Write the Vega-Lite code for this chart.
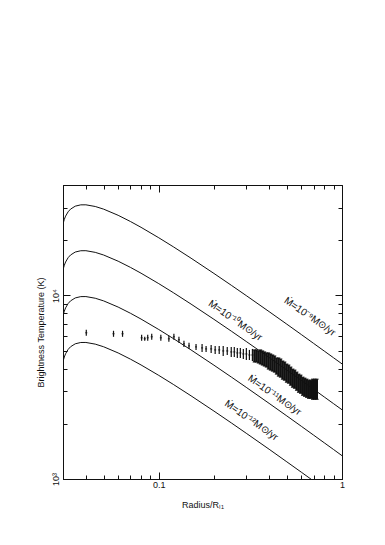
{
  "$schema": "https://vega.github.io/schema/vega-lite/v6.json",
  "width": 279,
  "height": 294,
  "autosize": {"type": "none"},
  "padding": {"left": 63, "top": 185, "right": 43, "bottom": 66},
  "background": "white",
  "config": {
    "view": {"stroke": "#111", "strokeWidth": 1},
    "font": "Liberation Sans",
    "axis": {"domainColor": "#111", "tickColor": "#111", "labelColor": "#111", "titleColor": "#111", "grid": false, "labelFont": "Liberation Sans", "titleFont": "Liberation Sans", "titleFontWeight": "normal"}
  },
  "datasets": {
    "curves": [
      {"r":0.03,"t":24570,"m":"9"},{"r":0.0305,"t":25996,"m":"9"},{"r":0.031,"t":27071,"m":"9"},{"r":0.032,"t":28582,"m":"9"},{"r":0.033,"t":29569,"m":"9"},{"r":0.035,"t":30670,"m":"9"},{"r":0.0375,"t":31178,"m":"9"},{"r":0.04,"t":31194,"m":"9"},{"r":0.045,"t":30547,"m":"9"},{"r":0.05,"t":29543,"m":"9"},{"r":0.06,"t":27346,"m":"9"},{"r":0.07,"t":25306,"m":"9"},{"r":0.08,"t":23521,"m":"9"},{"r":0.1,"t":20630,"m":"9"},{"r":0.12,"t":18427,"m":"9"},{"r":0.15,"t":15965,"m":"9"},{"r":0.2,"t":13187,"m":"9"},{"r":0.25,"t":11329,"m":"9"},{"r":0.3,"t":9989,"m":"9"},{"r":0.4,"t":8168,"m":"9"},{"r":0.5,"t":6975,"m":"9"},{"r":0.6,"t":6125,"m":"9"},{"r":0.7,"t":5482,"m":"9"},{"r":0.8,"t":4980,"m":"9"},{"r":0.9,"t":4574,"m":"9"},{"r":1.0,"t":4239,"m":"9"},
      {"r":0.03,"t":13816,"m":"10"},{"r":0.0305,"t":14618,"m":"10"},{"r":0.031,"t":15223,"m":"10"},{"r":0.032,"t":16073,"m":"10"},{"r":0.033,"t":16628,"m":"10"},{"r":0.035,"t":17247,"m":"10"},{"r":0.0375,"t":17532,"m":"10"},{"r":0.04,"t":17541,"m":"10"},{"r":0.045,"t":17178,"m":"10"},{"r":0.05,"t":16613,"m":"10"},{"r":0.06,"t":15377,"m":"10"},{"r":0.07,"t":14230,"m":"10"},{"r":0.08,"t":13227,"m":"10"},{"r":0.1,"t":11601,"m":"10"},{"r":0.12,"t":10362,"m":"10"},{"r":0.15,"t":8977,"m":"10"},{"r":0.2,"t":7415,"m":"10"},{"r":0.25,"t":6371,"m":"10"},{"r":0.3,"t":5617,"m":"10"},{"r":0.4,"t":4593,"m":"10"},{"r":0.5,"t":3922,"m":"10"},{"r":0.6,"t":3444,"m":"10"},{"r":0.7,"t":3083,"m":"10"},{"r":0.8,"t":2800,"m":"10"},{"r":0.9,"t":2572,"m":"10"},{"r":1.0,"t":2384,"m":"10"},
      {"r":0.03,"t":7770,"m":"11"},{"r":0.0305,"t":8221,"m":"11"},{"r":0.031,"t":8561,"m":"11"},{"r":0.032,"t":9039,"m":"11"},{"r":0.033,"t":9351,"m":"11"},{"r":0.035,"t":9699,"m":"11"},{"r":0.0375,"t":9860,"m":"11"},{"r":0.04,"t":9865,"m":"11"},{"r":0.045,"t":9660,"m":"11"},{"r":0.05,"t":9343,"m":"11"},{"r":0.06,"t":8648,"m":"11"},{"r":0.07,"t":8003,"m":"11"},{"r":0.08,"t":7438,"m":"11"},{"r":0.1,"t":6524,"m":"11"},{"r":0.12,"t":5827,"m":"11"},{"r":0.15,"t":5049,"m":"11"},{"r":0.2,"t":4170,"m":"11"},{"r":0.25,"t":3583,"m":"11"},{"r":0.3,"t":3159,"m":"11"},{"r":0.4,"t":2583,"m":"11"},{"r":0.5,"t":2206,"m":"11"},{"r":0.6,"t":1937,"m":"11"},{"r":0.7,"t":1734,"m":"11"},{"r":0.8,"t":1575,"m":"11"},{"r":0.9,"t":1447,"m":"11"},{"r":1.0,"t":1340,"m":"11"},
      {"r":0.03,"t":4369,"m":"12"},{"r":0.0305,"t":4623,"m":"12"},{"r":0.031,"t":4814,"m":"12"},{"r":0.032,"t":5083,"m":"12"},{"r":0.033,"t":5258,"m":"12"},{"r":0.035,"t":5454,"m":"12"},{"r":0.0375,"t":5544,"m":"12"},{"r":0.04,"t":5547,"m":"12"},{"r":0.045,"t":5432,"m":"12"},{"r":0.05,"t":5254,"m":"12"},{"r":0.06,"t":4863,"m":"12"},{"r":0.07,"t":4500,"m":"12"},{"r":0.08,"t":4183,"m":"12"},{"r":0.1,"t":3669,"m":"12"},{"r":0.12,"t":3277,"m":"12"},{"r":0.15,"t":2839,"m":"12"},{"r":0.2,"t":2345,"m":"12"},{"r":0.25,"t":2015,"m":"12"},{"r":0.3,"t":1776,"m":"12"},{"r":0.4,"t":1453,"m":"12"},{"r":0.5,"t":1240,"m":"12"},{"r":0.6,"t":1089,"m":"12"},{"r":0.7,"t":975,"m":"12"},{"r":0.8,"t":886,"m":"12"},{"r":0.9,"t":813,"m":"12"},{"r":1.0,"t":754,"m":"12"}
    ],
    "obs": [
      {"r":0.0402,"t":6262,"lo":6030,"hi":6504},
      {"r":0.0566,"t":6184,"lo":5954,"hi":6422},
      {"r":0.0634,"t":6184,"lo":5954,"hi":6422},
      {"r":0.0806,"t":5879,"lo":5660,"hi":6106},
      {"r":0.0838,"t":5805,"lo":5660,"hi":5954},
      {"r":0.0870,"t":5879,"lo":5660,"hi":6106},
      {"r":0.0915,"t":5954,"lo":5732,"hi":6184},
      {"r":0.1026,"t":5879,"lo":5660,"hi":6106},
      {"r":0.1135,"t":5805,"lo":5589,"hi":6030},
      {"r":0.1209,"t":5954,"lo":5732,"hi":6184},
      {"r":0.1288,"t":5732,"lo":5518,"hi":5954},
      {"r":0.1372,"t":5449,"lo":5246,"hi":5660},
      {"r":0.1462,"t":5313,"lo":5115,"hi":5518},
      {"r":0.1597,"t":5246,"lo":5051,"hi":5449},
      {"r":0.1723,"t":5180,"lo":4925,"hi":5449},
      {"r":0.1812,"t":5115,"lo":4925,"hi":5313},
      {"r":0.1931,"t":5115,"lo":4863,"hi":5380},
      {"r":0.2031,"t":5051,"lo":4802,"hi":5313},
      {"r":0.2137,"t":5051,"lo":4802,"hi":5313},
      {"r":0.2247,"t":4987,"lo":4682,"hi":5313},
      {"r":0.2364,"t":4987,"lo":4741,"hi":5246},
      {"r":0.2486,"t":4925,"lo":4623,"hi":5246},
      {"r":0.2583,"t":4925,"lo":4623,"hi":5246},
      {"r":0.2683,"t":4863,"lo":4565,"hi":5180},
      {"r":0.2787,"t":4863,"lo":4565,"hi":5180},
      {"r":0.2894,"t":4802,"lo":4507,"hi":5115},
      {"r":0.3006,"t":4802,"lo":4451,"hi":5180},
      {"r":0.3123,"t":4741,"lo":4451,"hi":5051},
      {"r":0.3243,"t":4741,"lo":4395,"hi":5115}
    ],
    "band": [
      {"r":0.3327,"t":4682,"lo":4340,"hi":5051},
      {"r":0.3412,"t":4682,"lo":4340,"hi":5051},
      {"r":0.3499,"t":4623,"lo":4285,"hi":4987},
      {"r":0.3589,"t":4623,"lo":4231,"hi":5051},
      {"r":0.3681,"t":4565,"lo":4178,"hi":4987},
      {"r":0.3775,"t":4507,"lo":4126,"hi":4925},
      {"r":0.3872,"t":4451,"lo":4074,"hi":4863},
      {"r":0.3971,"t":4395,"lo":3972,"hi":4863},
      {"r":0.4073,"t":4340,"lo":3922,"hi":4802},
      {"r":0.4177,"t":4285,"lo":3873,"hi":4741},
      {"r":0.4284,"t":4231,"lo":3824,"hi":4682},
      {"r":0.4394,"t":4126,"lo":3729,"hi":4565},
      {"r":0.4506,"t":4074,"lo":3636,"hi":4565},
      {"r":0.4622,"t":4023,"lo":3590,"hi":4507},
      {"r":0.4740,"t":3922,"lo":3500,"hi":4395},
      {"r":0.4861,"t":3873,"lo":3456,"hi":4340},
      {"r":0.4986,"t":3776,"lo":3370,"hi":4231},
      {"r":0.5114,"t":3729,"lo":3328,"hi":4178},
      {"r":0.5245,"t":3636,"lo":3245,"hi":4074},
      {"r":0.5379,"t":3545,"lo":3164,"hi":3972},
      {"r":0.5517,"t":3500,"lo":3124,"hi":3922},
      {"r":0.5658,"t":3413,"lo":3046,"hi":3824},
      {"r":0.5803,"t":3328,"lo":2970,"hi":3729},
      {"r":0.5952,"t":3286,"lo":2933,"hi":3682},
      {"r":0.6105,"t":3204,"lo":2860,"hi":3590},
      {"r":0.6261,"t":3164,"lo":2824,"hi":3545},
      {"r":0.6421,"t":3124,"lo":2788,"hi":3500},
      {"r":0.6586,"t":3085,"lo":2753,"hi":3456},
      {"r":0.6755,"t":3085,"lo":2753,"hi":3456},
      {"r":0.6928,"t":3085,"lo":2719,"hi":3500},
      {"r":0.7105,"t":3085,"lo":2719,"hi":3500},
      {"r":0.7287,"t":3085,"lo":2719,"hi":3500}
    ],
    "labels": [
      {"r":0.667,"t":7665,"text":"Ṁ=10⁻⁹M⊙/yr"},
      {"r":0.2617,"t":7288,"text":"Ṁ=10⁻¹⁰M⊙/yr"},
      {"r":0.4283,"t":2858,"text":"Ṁ=10⁻¹¹M⊙/yr"},
      {"r":0.3202,"t":2083,"text":"Ṁ=10⁻¹²M⊙/yr"}
    ]
  },
  "resolve": {"axis": {"x": "independent", "y": "independent"}},
  "layer": [
    {
      "data": {"name": "curves"},
      "mark": {"type": "line", "color": "#111", "strokeWidth": 1, "clip": true},
      "encoding": {
        "x": {"field": "r", "type": "quantitative",
          "scale": {"type": "log", "domain": [0.03, 1], "nice": false, "zero": false},
          "axis": {"orient": "bottom", "title": "Radius/R\u2097\u2081", "titleFontSize": 9, "titlePadding": 8,
            "values": [0.03,0.04,0.05,0.06,0.07,0.08,0.09,0.1,0.2,0.3,0.4,0.5,0.6,0.7,0.8,0.9,1],
            "labelExpr": "datum.value == 0.1 ? '0.1' : (datum.value == 1 ? '1' : '')",
            "labelFontSize": 9, "labelPadding": 8, "labelFlush": false, "labelOverlap": false,
            "tickSize": {"condition": {"test": "datum.value == 0.1 || datum.value == 1", "value": -7}, "value": -4}}},
        "y": {"field": "t", "type": "quantitative",
          "scale": {"type": "log", "domain": [1000, 40000], "nice": false, "zero": false},
          "axis": {"orient": "left", "title": "Brightness Temperature (K)", "titleFontSize": 9, "titlePadding": 3,
            "values": [1000,2000,3000,4000,5000,6000,7000,8000,9000,10000,20000,30000,40000],
            "labelExpr": "datum.value == 1000 ? '10³' : (datum.value == 10000 ? '10⁴' : '')",
            "labelAngle": 270, "labelFontSize": 9, "labelPadding": 10, "labelFlush": false, "labelOverlap": false,
            "tickSize": {"condition": {"test": "datum.value == 1000 || datum.value == 10000", "value": -7}, "value": -4}}},
        "detail": {"field": "m", "type": "nominal"}
      }
    },
    {
      "data": {"name": "obs"},
      "mark": {"type": "rule", "color": "#111", "strokeWidth": 1.2},
      "encoding": {
        "x": {"field": "r", "type": "quantitative",
          "axis": {"orient": "top", "title": null, "labels": false, "domain": false,
            "values": [0.03,0.04,0.05,0.06,0.07,0.08,0.09,0.1,0.2,0.3,0.4,0.5,0.6,0.7,0.8,0.9,1],
            "tickSize": {"condition": {"test": "datum.value == 0.1 || datum.value == 1", "value": -7}, "value": -4}}},
        "y": {"field": "lo", "type": "quantitative",
          "axis": {"orient": "right", "title": null, "labels": false, "domain": false,
            "values": [1000,2000,3000,4000,5000,6000,7000,8000,9000,10000,20000,30000,40000],
            "tickSize": {"condition": {"test": "datum.value == 1000 || datum.value == 10000", "value": -7}, "value": -4}}},
        "y2": {"field": "hi"}
      }
    },
    {
      "data": {"name": "obs"},
      "mark": {"type": "tick", "orient": "horizontal", "color": "#111", "size": 2, "thickness": 1, "opacity": 1},
      "encoding": {
        "x": {"field": "r", "type": "quantitative", "axis": null},
        "y": {"field": "t", "type": "quantitative", "axis": null}
      }
    },
    {
      "data": {"name": "band"},
      "mark": {"type": "rule", "color": "#111", "strokeWidth": 2.4},
      "encoding": {
        "x": {"field": "r", "type": "quantitative", "axis": null},
        "y": {"field": "lo", "type": "quantitative", "axis": null},
        "y2": {"field": "hi"}
      }
    },
    {
      "data": {"name": "band"},
      "mark": {"type": "tick", "orient": "horizontal", "color": "#111", "size": 3.5, "thickness": 1, "opacity": 1},
      "encoding": {
        "x": {"field": "r", "type": "quantitative", "axis": null},
        "y": {"field": "lo", "type": "quantitative", "axis": null}
      }
    },
    {
      "data": {"name": "band"},
      "mark": {"type": "tick", "orient": "horizontal", "color": "#111", "size": 3.5, "thickness": 1, "opacity": 1},
      "encoding": {
        "x": {"field": "r", "type": "quantitative", "axis": null},
        "y": {"field": "hi", "type": "quantitative", "axis": null}
      }
    },
    {
      "data": {"name": "labels"},
      "mark": {"type": "text", "angle": 35, "fontSize": 10, "color": "#111", "align": "center", "baseline": "middle", "font": "Liberation Sans"},
      "encoding": {
        "x": {"field": "r", "type": "quantitative", "axis": null},
        "y": {"field": "t", "type": "quantitative", "axis": null},
        "text": {"field": "text"}
      }
    }
  ]
}
